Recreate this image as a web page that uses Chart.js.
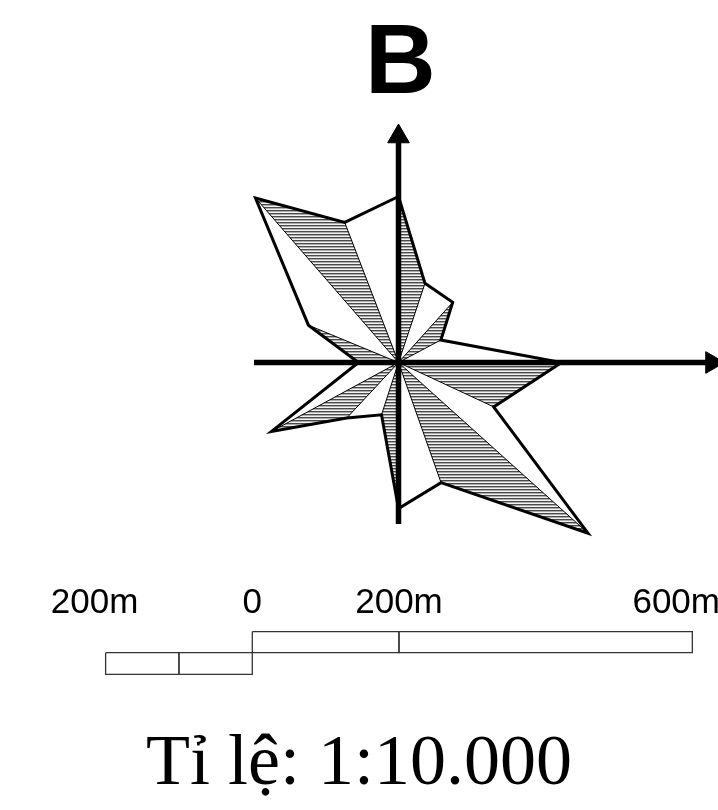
<!DOCTYPE html>
<html>
<head>
<meta charset="utf-8">
<script src="https://cdn.jsdelivr.net/npm/chart.js@4.4.1/dist/chart.umd.min.js"></script>
<style>
  html, body { margin: 0; padding: 0; background: #fff; overflow: hidden; }
</style>
</head>
<body>
<canvas id="rose" width="718" height="810"></canvas>
<script>
// hoa gio 16 huong - goc tinh tu huong Bac, theo chieu kim dong ho
const directions = ['B', 'BĐB', 'ĐB', 'ĐĐB', 'Đ', 'ĐĐN', 'ĐN', 'NĐN', 'N', 'NTN', 'TN', 'TTN', 'T', 'TTB', 'TB', 'BTB'];
const bearings = [0, 18.5, 42, 62, 90, 115, 132, 160.5, 180, 198, 223, 241.5, 270, 292.5, 319, 339];
const lengths = [166, 83.5, 81, 48, 163, 105, 255, 127.5, 146, 55, 76, 144.5, 40, 97.5, 218, 150];

// thuoc ty le (m)
const scaleUpper = [0, 200, 600];
const scaleLower = [-200, -100, 0];
const scaleLabels = ['200m', '0', '200m', '600m'];
const scaleLabelAt = [-215, 0, 200, 578];

const northLabel = 'B';
const ratioText = 'Tỉ lệ: 1:10.000';

// vi tri truc, thuoc
const axisEnds = { north: 226, south: -161.5, west: -144.5, east: 313.5 };
const barRows = { top: -269.2, mid: -290.2, bottom: -311.8 };

function toXY(deg, r) {
    const a = deg * Math.PI / 180;
    return { x: r * Math.sin(a), y: r * Math.cos(a) };
}

const tips = bearings.map((b, i) => toXY(b, lengths[i]));
const outline = tips.concat([tips[0]]);

// nua canh co gach: tam giac (tam, huong i, huong i+1), xen ke
const hatched = [{ x: 0, y: 0 }];
for (let i = 0; i < tips.length; i += 2) {
    hatched.push(tips[i], tips[i + 1], { x: 0, y: 0 });
}

function rect(x0, x1, y0, y1) {
    return [{ x: x0, y: y0 }, { x: x1, y: y0 }, { x: x1, y: y1 }, { x: x0, y: y1 }, { x: x0, y: y0 }];
}
const barSets = [];
for (let i = 0; i < scaleUpper.length - 1; i++) barSets.push(rect(scaleUpper[i], scaleUpper[i + 1], barRows.top, barRows.mid));
for (let i = 0; i < scaleLower.length - 1; i++) barSets.push(rect(scaleLower[i], scaleLower[i + 1], barRows.mid, barRows.bottom));

// mau gach ngang
const pc = document.createElement('canvas');
pc.width = 4; pc.height = 3;
const pctx = pc.getContext('2d');
['#4a4a4a', '#acacac', '#f2f2f2'].forEach((c, i) => { pctx.fillStyle = c; pctx.fillRect(0, i, 4, 1); });
const hatch = pctx.createPattern(pc, 'repeat');

const noPad = (s) => { s.paddingLeft = 0; s.paddingRight = 0; s.paddingTop = 0; s.paddingBottom = 0; };

const datasets = [
    {
        label: 'truc B', data: [{ x: 0, y: axisEnds.south }, { x: 0, y: axisEnds.north }],
        borderColor: '#000', borderWidth: 5.5, clip: false,
        pointRadius: [0, 12.5], pointStyle: 'triangle', pointRotation: 0,
        pointBackgroundColor: '#000', pointBorderColor: '#000', pointBorderWidth: 1
    },
    {
        label: 'truc D', data: [{ x: axisEnds.west, y: 0 }, { x: axisEnds.east, y: 0 }],
        borderColor: '#000', borderWidth: 5.5, clip: false,
        pointRadius: [0, 12.5], pointStyle: 'triangle', pointRotation: 90,
        pointBackgroundColor: '#000', pointBorderColor: '#000', pointBorderWidth: 1
    },
    {
        label: 'vien', data: outline, borderColor: '#000', borderWidth: 3,
        borderJoinStyle: 'miter', fill: false, pointRadius: 0
    },
    {
        label: 'gach', data: hatched, borderColor: '#000', borderWidth: 1,
        backgroundColor: hatch, fill: 'shape', pointRadius: 0
    }
];
barSets.forEach((d, i) => datasets.push({
    label: 'thuoc ' + i, data: d, xAxisID: 'xs', borderColor: '#333', borderWidth: 1.3,
    fill: false, pointRadius: 0, clip: false
}));

const ctx = document.getElementById('rose').getContext('2d');
new Chart(ctx, {
    type: 'scatter',
    data: { datasets: datasets },
    options: {
        responsive: false,
        animation: false,
        events: [],
        showLine: true,
        layout: { padding: 0, autoPadding: false },
        elements: { point: { radius: 0 }, line: { tension: 0 } },
        scales: {
            x: { type: 'linear', min: -398.5, max: 319.5, display: false },
            y: { type: 'linear', min: -362.5, max: 362.5, display: false },
            xb: {
                type: 'linear', axis: 'x', min: -398.5, max: 319.5,
                position: { y: 345.5 },
                grid: { display: false, drawTicks: false },
                border: { display: false },
                afterBuildTicks: (s) => { s.ticks = [{ value: 2 }]; },
                afterFit: noPad,
                ticks: {
                    padding: 0, autoSkip: false, maxRotation: 0, color: '#000',
                    font: { family: 'Liberation Sans', size: 98, weight: 'bold', lineHeight: 1 },
                    callback: () => northLabel
                }
            },
            xs: {
                type: 'linear', axis: 'x', min: -344, max: 635,
                position: { y: -220.3 },
                grid: { display: false, drawTicks: false },
                border: { display: false },
                afterBuildTicks: (s) => { s.ticks = scaleLabelAt.map(v => ({ value: v })); },
                afterFit: noPad,
                ticks: {
                    padding: 0, autoSkip: false, maxRotation: 0, color: '#000',
                    font: { family: 'Liberation Sans', size: 35 },
                    callback: (v, i) => scaleLabels[i]
                }
            }
        },
        plugins: {
            legend: { display: false },
            tooltip: { enabled: false },
            title: {
                display: true, position: 'bottom', text: ratioText, color: '#000',
                font: { family: 'Liberation Serif', size: 72, weight: 'normal', lineHeight: 1 },
                padding: { top: 4, bottom: 9 }
            }
        }
    }
});
</script>
</body>
</html>
